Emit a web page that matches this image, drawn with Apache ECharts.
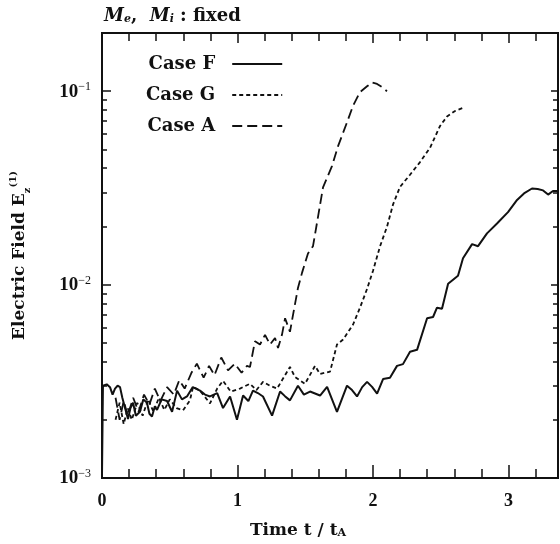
<!DOCTYPE html>
<html>
<head>
<meta charset="utf-8">
<script src="https://cdn.jsdelivr.net/npm/echarts@6/dist/echarts.min.js"></script>
<style>html,body{margin:0;padding:0;background:#fff;}#c{width:560px;height:544px;}</style>
</head>
<body>
<div id="c"></div>
<script>
// ---- data ----
const seriesNames = ['Case F', 'Case G', 'Case A'];
const caseF = [
[0.000,1.05e-3],[0.007,3.0e-3],[0.035,3.05e-3],[0.059,2.95e-3],[0.078,2.7e-3],[0.096,2.9e-3],[0.115,3.0e-3],[0.133,2.95e-3],[0.150,2.6e-3],[0.170,2.3e-3],[0.192,2.02e-3],[0.210,2.3e-3],[0.229,2.45e-3],[0.250,2.1e-3],[0.280,2.2e-3],[0.305,2.55e-3],[0.332,2.45e-3],[0.350,2.15e-3],[0.369,2.08e-3],[0.390,2.35e-3],[0.406,2.25e-3],[0.440,2.55e-3],[0.480,2.5e-3],[0.517,2.2e-3],[0.554,2.83e-3],[0.590,2.55e-3],[0.627,2.64e-3],[0.670,2.95e-3],[0.723,2.83e-3],[0.760,2.7e-3],[0.797,2.64e-3],[0.850,2.75e-3],[0.893,2.3e-3],[0.945,2.64e-3],[0.996,2.0e-3],[1.041,2.67e-3],[1.080,2.5e-3],[1.114,2.83e-3],[1.150,2.75e-3],[1.188,2.64e-3],[1.255,2.1e-3],[1.314,2.8e-3],[1.350,2.65e-3],[1.387,2.52e-3],[1.446,3.0e-3],[1.490,2.7e-3],[1.535,2.8e-3],[1.609,2.67e-3],[1.661,2.96e-3],[1.734,2.2e-3],[1.808,3.0e-3],[1.845,2.85e-3],[1.882,2.64e-3],[1.920,2.95e-3],[1.956,3.14e-3],[1.993,2.96e-3],[2.030,2.73e-3],[2.074,3.25e-3],[2.125,3.3e-3],[2.177,3.8e-3],[2.221,3.88e-3],[2.273,4.5e-3],[2.325,4.6e-3],[2.399,6.7e-3],[2.443,6.8e-3],[2.472,7.6e-3],[2.509,7.5e-3],[2.554,1.01e-2],[2.627,1.11e-2],[2.664,1.37e-2],[2.731,1.62e-2],[2.775,1.58e-2],[2.841,1.84e-2],[2.915,2.07e-2],[2.996,2.37e-2],[3.063,2.74e-2],[3.114,2.96e-2],[3.173,3.14e-2],[3.215,3.12e-2],[3.255,3.07e-2],[3.292,2.92e-2],[3.328,3.05e-2],[3.365,3.05e-2]
];
const caseG = [
[0.10,2.0e-3],[0.13,2.45e-3],[0.16,1.9e-3],[0.19,2.3e-3],[0.22,2.0e-3],[0.26,2.45e-3],[0.30,2.1e-3],[0.34,2.55e-3],[0.38,2.2e-3],[0.42,2.6e-3],[0.46,2.25e-3],[0.50,2.55e-3],[0.55,2.3e-3],[0.598,2.24e-3],[0.649,2.52e-3],[0.672,2.96e-3],[0.723,2.83e-3],[0.797,2.43e-3],[0.85,2.9e-3],[0.893,3.18e-3],[0.95,2.8e-3],[1.018,2.9e-3],[1.092,3.07e-3],[1.14,2.85e-3],[1.188,3.14e-3],[1.24,3.0e-3],[1.292,2.9e-3],[1.387,3.75e-3],[1.424,3.33e-3],[1.498,3.07e-3],[1.572,3.8e-3],[1.609,3.45e-3],[1.683,3.55e-3],[1.734,4.9e-3],[1.779,5.2e-3],[1.852,6.2e-3],[1.904,7.6e-3],[1.956,9.5e-3],[2.0,1.18e-2],[2.052,1.58e-2],[2.103,1.99e-2],[2.148,2.6e-2],[2.199,3.2e-2],[2.273,3.7e-2],[2.347,4.3e-2],[2.421,5.1e-2],[2.494,6.6e-2],[2.546,7.4e-2],[2.605,7.9e-2],[2.664,8.2e-2]
];
const caseA = [
[0.10,2.6e-3],[0.13,2.0e-3],[0.16,2.5e-3],[0.19,2.1e-3],[0.23,2.6e-3],[0.27,2.2e-3],[0.31,2.7e-3],[0.35,2.4e-3],[0.39,2.9e-3],[0.43,2.5e-3],[0.48,2.95e-3],[0.53,2.7e-3],[0.57,3.2e-3],[0.61,2.9e-3],[0.66,3.5e-3],[0.70,3.9e-3],[0.75,3.3e-3],[0.79,3.8e-3],[0.83,3.4e-3],[0.88,4.2e-3],[0.93,3.6e-3],[0.98,3.9e-3],[1.03,3.5e-3],[1.07,3.8e-3],[1.092,3.75e-3],[1.129,5.1e-3],[1.166,4.9e-3],[1.203,5.5e-3],[1.240,4.9e-3],[1.277,5.3e-3],[1.299,4.7e-3],[1.328,5.5e-3],[1.351,6.7e-3],[1.387,5.7e-3],[1.410,7.0e-3],[1.446,9.6e-3],[1.476,1.15e-2],[1.520,1.45e-2],[1.557,1.58e-2],[1.594,2.24e-2],[1.631,3.18e-2],[1.697,4.1e-2],[1.742,5.2e-2],[1.808,6.9e-2],[1.852,8.4e-2],[1.904,9.9e-2],[1.956,0.106],[1.993,0.111],[2.030,0.109],[2.066,0.105],[2.103,0.100]
];
const xMajorTicks = [0, 1, 2, 3];
const xMinorTicks = [0.2,0.4,0.6,0.8,1.2,1.4,1.6,1.8,2.2,2.4,2.6,2.8,3.2];
const yMajorTicks = [0.001, 0.01, 0.1];
const yMinorTicks = [0.002,0.003,0.004,0.005,0.006,0.007,0.008,0.009,0.02,0.03,0.04,0.05,0.06,0.07,0.08,0.09];
const xRange = [0, 3.365];
const yRange = [0.001, 0.2];

// ---- chart ----
const INK = '#111';
const SERIF = 'DejaVu Serif';
const NUMF = 'Liberation Serif';
const chart = echarts.init(document.getElementById('c'), null, {renderer: 'canvas'});

function xAx(pos, ticks, len, labels) {
  return {
    type: 'value', position: pos, min: xRange[0], max: xRange[1],
    axisLine: {show: true, onZero: false, lineStyle: {color: INK, width: 2}},
    axisTick: {show: true, inside: true, length: len, customValues: ticks, lineStyle: {color: INK, width: 1.5}},
    axisLabel: labels ? {show: true, customValues: xMajorTicks, margin: 14, color: INK,
      fontFamily: NUMF, fontWeight: 'bold', fontSize: 18} : {show: false},
    splitLine: {show: false}
  };
}
function yAx(pos, ticks, len, labels) {
  return {
    type: 'log', logBase: 10, position: pos, min: yRange[0], max: yRange[1],
    axisLine: {show: true, onZero: false, lineStyle: {color: INK, width: 2}},
    axisTick: {show: true, inside: true, length: len, customValues: ticks, lineStyle: {color: INK, width: 1.5}},
    axisLabel: labels ? {show: true, customValues: yMajorTicks, margin: 11, color: INK,
      formatter: v => '{b|10}{s|\u2212' + Math.round(-Math.log10(v)) + '}',
      rich: {
        b: {fontFamily: NUMF, fontWeight: 'bold', fontSize: 19, color: INK, lineHeight: 20, verticalAlign: 'bottom'},
        s: {fontFamily: NUMF, fontSize: 12, color: INK, lineHeight: 12, verticalAlign: 'top'}
      }} : {show: false},
    splitLine: {show: false}
  };
}

const xAxes = [xAx('bottom', xMajorTicks, 13, true), xAx('top', xMajorTicks, 10, false),
               xAx('bottom', xMinorTicks, 9, false), xAx('top', xMinorTicks, 8, false)];
xAxes[0].name = '{b|Time t / t}{sub|A}';
xAxes[0].nameLocation = 'middle';
xAxes[0].nameGap = 39;
xAxes[0].nameTextStyle = {padding: [0, 64, 0, 0], rich: {
  b: {fontFamily: SERIF, fontWeight: 'bold', fontSize: 17, color: INK, lineHeight: 22, verticalAlign: 'bottom'},
  sub: {fontFamily: SERIF, fontWeight: 'bold', fontSize: 11, color: INK, lineHeight: 12, verticalAlign: 'bottom'}
}};

const yAxes = [yAx('left', yMajorTicks, 9, true), yAx('right', yMajorTicks, 7, false),
               yAx('left', yMinorTicks, 5, false), yAx('right', yMinorTicks, 5, false)];
yAxes[0].name = '{b|Electric Field E}{sub|z}{sup|(1)}';
yAxes[0].nameLocation = 'middle';
yAxes[0].nameRotate = 90;
yAxes[0].nameGap = 70;
yAxes[0].nameTextStyle = {rich: {
  b: {fontFamily: SERIF, fontWeight: 'bold', fontSize: 17, color: INK, lineHeight: 24, verticalAlign: 'middle'},
  sub: {fontFamily: SERIF, fontWeight: 'bold', fontSize: 10, color: INK, lineHeight: 12, verticalAlign: 'bottom'},
  sup: {fontFamily: SERIF, fontWeight: 'bold', fontSize: 10, color: INK, lineHeight: 12, verticalAlign: 'top'}
}};

function mk(name, data, type, width) {
  return {
    name: name, type: 'line', data: data, xAxisIndex: 0, yAxisIndex: 0,
    symbol: 'none', showSymbol: false, smooth: false, animation: false,
    lineStyle: {color: INK, width: width, type: type}, itemStyle: {color: INK},
    z: 3
  };
}

chart.setOption({
  backgroundColor: '#fff',
  animation: false,
  grid: {left: 102, right: 2, top: 33, bottom: 58, containLabel: false},
  title: {
    text: '{m|M}{s|e}{c|,  }{m|M}{s|i}{c| : }{b|fixed}',
    left: 99, top: -2,
    textStyle: {rich: {
      m: {fontFamily: SERIF, fontStyle: 'italic', fontSize: 18, color: INK, lineHeight: 22, verticalAlign: 'bottom'},
      s: {fontFamily: SERIF, fontStyle: 'italic', fontSize: 11, color: INK, lineHeight: 12, verticalAlign: 'bottom'},
      c: {fontFamily: SERIF, fontWeight: 'bold', fontSize: 18, color: INK, lineHeight: 22, verticalAlign: 'bottom'},
      b: {fontFamily: SERIF, fontWeight: 'bold', fontSize: 18, color: INK, lineHeight: 22, verticalAlign: 'bottom'}
    }}
  },
  legend: {
    data: seriesNames, orient: 'vertical', left: 141, top: 50, align: 'right',
    itemWidth: 50, itemHeight: 14, itemGap: 13,
    itemStyle: {opacity: 0},
    textStyle: {fontFamily: SERIF, fontWeight: 'bold', fontSize: 18, color: INK, padding: [0, 12, 0, 0]},
    inactiveColor: INK
  },
  xAxis: xAxes,
  yAxis: yAxes,
  series: [
    mk(seriesNames[0], caseF, 'solid', 2),
    mk(seriesNames[1], caseG, [4, 3], 1.8),
    mk(seriesNames[2], caseA, [10, 5], 1.8)
  ]
});
</script>
</body>
</html>
